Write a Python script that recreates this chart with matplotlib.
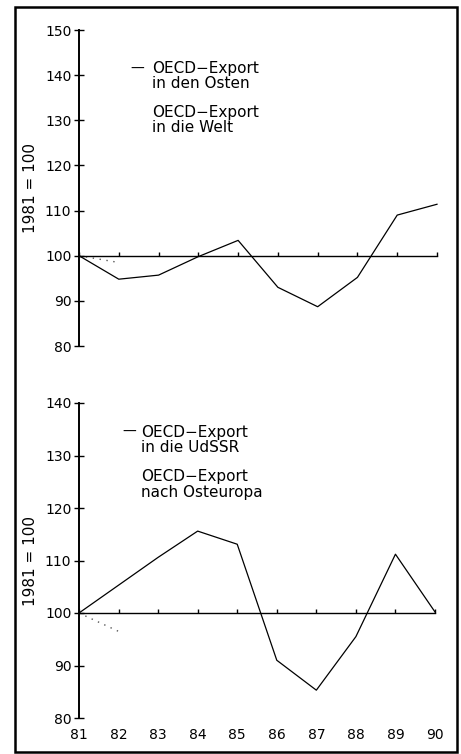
import numpy as np
import matplotlib
matplotlib.use("Agg")
import matplotlib.pyplot as plt
from matplotlib.patches import Rectangle

years = [81, 82, 83, 84, 85, 86, 87, 88, 89, 90]
year_labels = ["81", "82", "83", "84", "85", "86", "87", "88", "89", "90"]

# top panel
osten = [100, 94.8, 95.7, 99.8, 103.4, 93.0, 88.7, 95.2, 109.0, 111.4]
welt = [100, 98.5, np.nan, np.nan, np.nan, np.nan, np.nan, np.nan, np.nan, np.nan]
top_yticks = [80, 90, 100, 110, 120, 130, 140, 150]

# bottom panel
udssr = [100, 105.3, 110.6, 115.6, 113.1, 91.0, 85.3, 95.5, 111.2, 100.2]
osteuropa = [100, 96.5, np.nan, np.nan, np.nan, np.nan, np.nan, np.nan, np.nan, np.nan]
bot_yticks = [80, 90, 100, 110, 120, 130, 140]

legend_top = ["OECD\u2212Export\nin den Osten", "OECD\u2212Export\nin die Welt"]
legend_bot = ["OECD\u2212Export\nin die UdSSR", "OECD\u2212Export\nnach Osteuropa"]
ylabel = "1981 = 100"

plt.rcParams['font.family'] = ['DejaVu Sans']
W, H = 461, 754
fig = plt.figure(figsize=(W / 100, H / 100), dpi=100)

# outer border
fig.patches.append(Rectangle((15 / W, 1 - 752 / H), (457 - 15) / W, (752 - 7) / H,
                             transform=fig.transFigure, fill=False, lw=1.8,
                             edgecolor='black'))

def px(x, y):
    return x / W, 1 - y / H

def make_axes(rect, yticks, solid, dotted, legend, show_xlabels, dash_x, text_x, line_ys):
    ax = fig.add_axes(rect)
    ax.set_xlim(years[0], years[-1])
    ax.set_ylim(yticks[0], yticks[-1])
    ax.patch.set_visible(False)
    for s in ['right', 'bottom']:
        ax.spines[s].set_visible(False)
    ax.spines['left'].set_linewidth(1.4)
    ax.spines['top'].set_position(('data', 100))
    ax.spines['top'].set_linewidth(1.0)
    ax.set_yticks(yticks)
    ax.tick_params(axis='y', direction='inout', length=7, width=1.0,
                   labelsize=10, pad=2)
    ax.set_xticks(years)
    ax.set_xticklabels(year_labels if show_xlabels else [""] * len(years))
    ax.tick_params(axis='x', top=True, bottom=False, labeltop=False,
                   labelbottom=show_xlabels, direction='out', length=3,
                   width=1.0, labelsize=10, pad=4)
    ax.plot(years, solid, color='black', lw=0.9, clip_on=False)
    ax.plot(years, dotted, color='#555555', lw=1.0, ls=(0, (1, 4)), clip_on=False)
    ax.set_ylabel(ylabel, fontsize=11, labelpad=5)
    # legend
    fig.text(*px(dash_x, line_ys[0]), "\u2014", fontsize=10, va='center', ha='left')
    lines = legend[0].split("\n") + legend[1].split("\n")
    for s, y in zip(lines, line_ys):
        fig.text(*px(text_x, y), s, fontsize=11, va='center', ha='left')
    return ax

ax1 = make_axes([79 / W, 1 - 346 / H, (437 - 79) / W, (346 - 30) / H],
                top_yticks, osten, welt, legend_top, False, 130, 152,
                [69, 84, 113, 128])
ax2 = make_axes([79 / W, 1 - 718 / H, (435 - 79) / W, (718 - 403) / H],
                bot_yticks, udssr, osteuropa, legend_bot, True, 122, 141,
                [432, 447, 477, 492])

fig.savefig("out.png", dpi=100)
